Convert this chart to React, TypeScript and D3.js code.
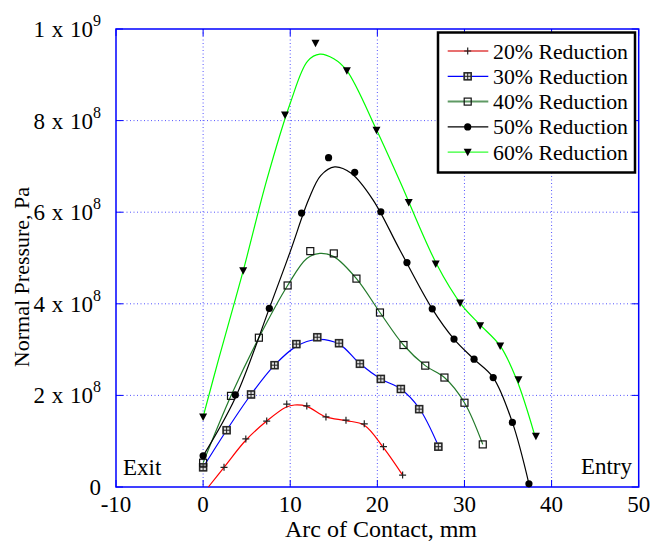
import React from "react";
import * as d3 from "d3";

// values in units of 1e8 Pa, x in mm
const seriesNames = ["20% Reduction", "30% Reduction", "40% Reduction", "50% Reduction", "60% Reduction"];
const seriesColors = ["#ff0000", "#0000ff", "#237a2b", "#000000", "#00ff00"];
const legendColors = ["#e87070", "#0000ff", "#5f9a64", "#000000", "#33ff33"];
const markerKinds = ["plus", "boxplus", "square", "circle", "triangle"];

// measured points (markers)
const pts20 = [[2.4, 0.43], [4.9, 1.05], [7.3, 1.44], [9.6, 1.81], [11.9, 1.77], [14.1, 1.53], [16.4, 1.46], [18.5, 1.38], [20.7, 0.88], [22.9, 0.26]];
const pts30 = [[0, 0.43], [2.7, 1.24], [5.5, 2.02], [8.2, 2.66], [10.7, 3.12], [13.1, 3.27], [15.6, 3.14], [18.0, 2.69], [20.4, 2.36], [22.7, 2.14], [24.8, 1.70], [27.0, 0.88]];
const pts40 = [[0, 0.53], [3.2, 1.99], [6.4, 3.26], [9.7, 4.40], [12.3, 5.15], [15.0, 5.10], [17.6, 4.55], [20.3, 3.81], [23.0, 3.10], [25.5, 2.65], [27.7, 2.39], [30.0, 1.84], [32.1, 0.93]];
const pts50 = [[0, 0.68], [3.7, 2.01], [7.6, 3.90], [11.3, 5.98], [14.4, 7.19], [17.4, 6.87], [20.4, 6.01], [23.4, 4.90], [26.3, 3.89], [28.8, 3.23], [31.1, 2.79], [33.3, 2.39], [35.5, 1.41], [37.4, 0.07]];
const pts60 = [[0, 1.53], [4.6, 4.72], [9.4, 8.12], [12.9, 9.69], [16.5, 9.09], [19.9, 7.79], [23.6, 6.21], [26.7, 4.87], [29.5, 4.02], [31.8, 3.52], [34.1, 3.08], [36.2, 2.34], [38.2, 1.11]];

// fitted curves
const fit20 = [[0.6, 0], [2.4, 0.43], [4.9, 1.02], [7.3, 1.44], [9.5, 1.74], [10.5, 1.79], [11.9, 1.76], [14.1, 1.53], [16.4, 1.45], [18.5, 1.35], [20.7, 0.86], [22.9, 0.26]];
const fit30 = [[0, 0.43], [2.7, 1.24], [5.5, 2.02], [8.2, 2.66], [10.7, 3.07], [13.0, 3.22], [15.6, 3.12], [18.0, 2.69], [20.4, 2.36], [22.7, 2.14], [24.8, 1.72], [27.0, 0.90]];
const fit40 = [[0, 0.53], [3.2, 1.99], [6.4, 3.26], [9.7, 4.40], [11.9, 4.99], [13.4, 5.10], [15.0, 5.03], [17.6, 4.55], [20.3, 3.81], [23.0, 3.10], [25.5, 2.65], [27.7, 2.39], [30.0, 1.84], [32.1, 0.93]];
const fit50 = [[0, 0.68], [3.7, 1.95], [7.6, 3.90], [10.0, 5.14], [12.1, 6.27], [13.5, 6.80], [15.1, 6.99], [17.0, 6.85], [19.5, 6.27], [22.6, 5.17], [26.3, 3.89], [28.8, 3.23], [31.1, 2.79], [33.3, 2.39], [35.5, 1.41], [37.4, 0.07]];
const fit60 = [[0, 1.53], [1.75, 2.77], [4.6, 4.72], [7.3, 6.70], [10.0, 8.38], [12.0, 9.30], [13.4, 9.45], [15.0, 9.35], [16.5, 9.09], [19.9, 7.80], [22.6, 6.67], [26.8, 4.87], [29.7, 3.97], [31.8, 3.54], [34.1, 3.08], [36.0, 2.34], [38.0, 1.17]];

const allPts = [pts20, pts30, pts40, pts50, pts60];
const allFits = [fit20, fit30, fit40, fit50, fit60];

const xTicks = [-10, 0, 10, 20, 30, 40, 50];
const yTicks = [0, 2, 4, 6, 8, 10];
const yTickMant = ["0", "2 x 10", "4 x 10", "6 x 10", "8 x 10", "1 x 10"];
const yTickExp = ["", "8", "8", "8", "8", "9"];

const FONT = "'Liberation Serif', 'Times New Roman', serif";

function Marker({ kind, cx, cy }: { kind: string; cx: number; cy: number }) {
  const s = 3.5;
  if (kind === "plus") {
    return (
      <path d={`M${cx - s},${cy}H${cx + s}M${cx},${cy - s}V${cy + s}`} stroke="#222" strokeWidth={1.2} fill="none" />
    );
  }
  if (kind === "boxplus") {
    return (
      <g stroke="#222" strokeWidth={1} fill="none">
        <rect x={cx - s} y={cy - s} width={2 * s} height={2 * s} fill="#ddd" stroke="#555" strokeWidth={1.6} />
        <rect x={cx - s} y={cy - s} width={2 * s} height={2 * s} />
        <path d={`M${cx - s},${cy}H${cx + s}M${cx},${cy - s}V${cy + s}`} />
      </g>
    );
  }
  if (kind === "square") {
    return <rect x={cx - s} y={cy - s} width={2 * s} height={2 * s} fill="white" fillOpacity={0} stroke="#111" strokeWidth={1.2} />;
  }
  if (kind === "circle") {
    return <circle cx={cx} cy={cy} r={3.6} fill="#000" />;
  }
  return <path d={`M${cx - 4},${cy - 3.5}L${cx + 4},${cy - 3.5}L${cx},${cy + 4}Z`} fill="#000" />;
}

export default function App() {
  const W = 652;
  const H = 544;
  const x = d3.scaleLinear().domain([-10, 50]).range([116, 638.7]);
  const y = d3.scaleLinear().domain([0, 10]).range([487, 29]);
  const [x0, x1] = x.range();
  const [y0, y1] = y.range();

  const line = d3
    .line<number[]>()
    .x((d) => x(d[0]))
    .y((d) => y(d[1]))
    .curve(d3.curveCatmullRom.alpha(0.5));

  const gridColor = "#2a2aff";

  return (
    <svg width={W} height={H} style={{ position: "absolute", left: 0, top: 0, background: "white" }} fontFamily={FONT}>
      <rect width={W} height={H} fill="white" />
      {/* grid */}
      {xTicks.slice(1, -1).map((t) => (
        <line key={"gx" + t} x1={x(t)} x2={x(t)} y1={y1} y2={y0} stroke={gridColor} strokeWidth={1} strokeDasharray="1,2.5" opacity={0.8} />
      ))}
      {yTicks.slice(1, -1).map((t) => (
        <line key={"gy" + t} x1={x0} x2={x1} y1={y(t)} y2={y(t)} stroke={gridColor} strokeWidth={1} strokeDasharray="1,2.5" opacity={0.8} />
      ))}
      {/* tick marks */}
      {yTicks.map((t) => (
        <g key={"ty" + t} stroke="#0000ff" strokeWidth={1}>
          <line x1={x0} x2={x0 + 7} y1={y(t)} y2={y(t)} />
          <line x1={x1 - 7} x2={x1} y1={y(t)} y2={y(t)} />
        </g>
      ))}
      {xTicks.map((t) => (
        <g key={"tx" + t} stroke="#0000ff" strokeWidth={1}>
          <line x1={x(t)} x2={x(t)} y1={y0} y2={y0 - 7} />
          <line x1={x(t)} x2={x(t)} y1={y1} y2={y1 + 7} />
        </g>
      ))}
      {/* frame */}
      <rect x={x0} y={y1} width={x1 - x0} height={y0 - y1} fill="none" stroke="#0000ff" strokeWidth={1.5} />

      {/* curves */}
      {allFits.map((f, i) => (
        <path key={"c" + i} d={line(f) || ""} fill="none" stroke={seriesColors[i]} strokeWidth={1.2} />
      ))}
      {/* markers */}
      {allPts.map((ps, i) =>
        ps.map((p, j) => <Marker key={`m${i}-${j}`} kind={markerKinds[i]} cx={x(p[0])} cy={y(p[1])} />)
      )}

      {/* x tick labels */}
      {xTicks.map((t) => (
        <text key={"lx" + t} x={x(t)} y={512} textAnchor="middle" fontSize={23} fill="#000">
          {t}
        </text>
      ))}
      {/* y tick labels */}
      {yTicks.map((t, i) => (
        <text key={"ly" + t} x={101} y={y(t) + 8} textAnchor="end" fontSize={23} fill="#000" wordSpacing={1}>
          {yTickMant[i]}
          {yTickExp[i] && (
            <tspan dy={-11} fontSize={16}>
              {yTickExp[i]}
            </tspan>
          )}
        </text>
      ))}

      {/* axis titles */}
      <text x={381} y={537} textAnchor="middle" fontSize={24} fill="#000">
        Arc of Contact, mm
      </text>
      <text transform="translate(29,277) rotate(-90)" textAnchor="middle" fontSize={22} fill="#000">
        Normal Pressure, Pa
      </text>
      <text x={123} y={475} fontSize={23} fill="#000">Exit</text>
      <text x={632} y={474} textAnchor="end" fontSize={23} fill="#000">Entry</text>

      {/* legend */}
      <g>
        <rect x={438} y={32.5} width={197} height={140} fill="white" stroke="#000" strokeWidth={2.5} />
        {seriesNames.map((n, i) => {
          const cy = 51 + i * 25.3;
          return (
            <g key={"lg" + i}>
              <line x1={447.7} x2={488.3} y1={cy} y2={cy} stroke={legendColors[i]} strokeWidth={i === 0 || i === 2 ? 2 : 1.2} />
              <Marker kind={markerKinds[i]} cx={467.7} cy={cy} />
              <text x={493} y={cy + 7.5} fontSize={21.8} fill="#000">
                {n}
              </text>
            </g>
          );
        })}
      </g>
    </svg>
  );
}
